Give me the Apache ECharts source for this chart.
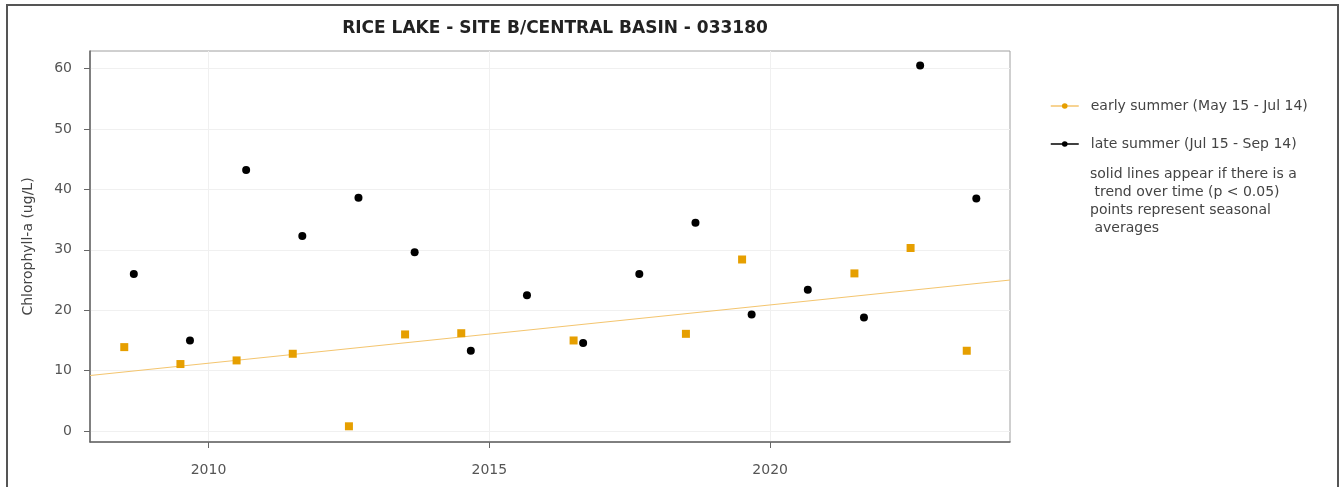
<!DOCTYPE html>
<html>
<head>
<meta charset="utf-8">
<script src="https://cdn.jsdelivr.net/npm/echarts@6/dist/echarts.min.js"></script>
<style>
  html, body { margin: 0; padding: 0; background: #fff; }
  #chart { width: 1343px; height: 487px; }
</style>
</head>
<body>
<div id="chart"></div>
<script>
// seasonal averages, chlorophyll-a (ug/L)
const earlyYears = [2008.5, 2009.5, 2010.5, 2011.5, 2012.5, 2013.5, 2014.5, 2016.5, 2018.5, 2019.5, 2021.5, 2022.5, 2023.5];
const earlyValues = [13.9, 11.1, 11.7, 12.8, 0.8, 16.0, 16.2, 15.0, 16.1, 28.4, 26.1, 30.3, 13.3];
const lateYears = [2008.67, 2009.67, 2010.67, 2011.67, 2012.67, 2013.67, 2014.67, 2015.67, 2016.67, 2017.67, 2018.67, 2019.67, 2020.67, 2021.67, 2022.67, 2023.67];
const lateValues = [26.0, 15.0, 43.2, 32.3, 38.6, 29.6, 13.3, 22.5, 14.6, 26.0, 34.5, 19.3, 23.4, 18.8, 60.5, 38.5];
// early summer trend line (ends at the plot edges)
const trendYears = [2007.89, 2024.27];
const trendValues = [9.2, 25.0];
const xTicks = [2010, 2015, 2020];
const yTicks = [0, 10, 20, 30, 40, 50, 60];

const zip = (xs, ys) => xs.map((x, i) => [x, ys[i]]);

const chart = echarts.init(document.getElementById('chart'));
const option = {
  backgroundColor: '#fff',
  animation: false,
  textStyle: { fontFamily: 'DejaVu Sans' },
  title: {
    text: 'RICE LAKE - SITE B/CENTRAL BASIN - 033180',
    left: 550,
    textAlign: 'center',
    top: 15,
    textStyle: { fontSize: 17, fontWeight: 'bold', color: '#222', fontFamily: 'DejaVu Sans' }
  },
  grid: {
    left: 90, right: 333, top: 51, bottom: 45,
    show: true, borderColor: '#a0a0a0', borderWidth: 1
  },
  xAxis: {
    type: 'value',
    min: trendYears[0],
    max: trendYears[1],
    axisLine: { show: true, onZero: false, lineStyle: { color: '#666', width: 1.5 } },
    axisTick: { show: true, inside: false, customValues: xTicks, length: 6, lineStyle: { color: '#666' } },
    axisLabel: { customValues: xTicks, margin: 21, fontSize: 14, color: '#555', formatter: v => String(v) },
    splitLine: { show: true, lineStyle: { color: '#f0f0f0' } }
  },
  yAxis: {
    type: 'value',
    min: -1.8,
    max: 62.9,
    name: 'Chlorophyll-a (ug/L)',
    nameLocation: 'middle',
    nameGap: 55,
    nameTextStyle: { fontSize: 14, color: '#444' },
    axisLine: { show: true, onZero: false, lineStyle: { color: '#666', width: 1.5 } },
    axisTick: { show: true, inside: false, customValues: yTicks, length: 6, lineStyle: { color: '#666' } },
    axisLabel: { customValues: yTicks, margin: 18, fontSize: 14, color: '#555' },
    splitLine: { show: true, lineStyle: { color: '#f0f0f0' } }
  },
  legend: {
    orient: 'vertical',
    left: 1045,
    top: 94,
    itemGap: 24,
    itemWidth: 28,
    itemHeight: 7,
    data: ['early summer (May 15 - Jul 14)', 'late summer (Jul 15 - Sep 14)'],
    lineStyle: { opacity: 1, width: 1.5 },
    textStyle: { fontSize: 14, color: '#444', padding: [0, 0, 0, 7] }
  },
  series: [
    {
      name: 'early summer (May 15 - Jul 14)',
      type: 'line',
      data: zip(trendYears, trendValues),
      symbol: 'none',
      lineStyle: { color: '#f4c56e', width: 1 },
      itemStyle: { color: '#E69F00' },
      z: 1
    },
    {
      name: 'early summer (May 15 - Jul 14)',
      type: 'line',
      data: zip(earlyYears, earlyValues),
      symbol: 'rect',
      symbolSize: 8,
      itemStyle: { color: '#E69F00' },
      lineStyle: { opacity: 0, color: '#E69F00' },
      z: 3
    },
    {
      name: 'late summer (Jul 15 - Sep 14)',
      type: 'line',
      data: zip(lateYears, lateValues),
      symbol: 'circle',
      symbolSize: 8,
      itemStyle: { color: '#000' },
      lineStyle: { opacity: 0, color: '#000' },
      z: 3
    }
  ],
  graphic: [
    {
      type: 'rect',
      shape: { x: 7, y: 5, width: 1331, height: 500 },
      style: { fill: 'none', stroke: '#555', lineWidth: 2 },
      silent: true
    },
    {
      type: 'text',
      left: 1090,
      top: 165,
      style: {
        text: 'solid lines appear if there is a\n trend over time (p < 0.05)\npoints represent seasonal\n averages',
        fontSize: 14,
        lineHeight: 18,
        fill: '#444',
        fontFamily: 'DejaVu Sans'
      }
    }
  ]
};
chart.setOption(option);
window.addEventListener('resize', () => chart.resize());
</script>
</body>
</html>
